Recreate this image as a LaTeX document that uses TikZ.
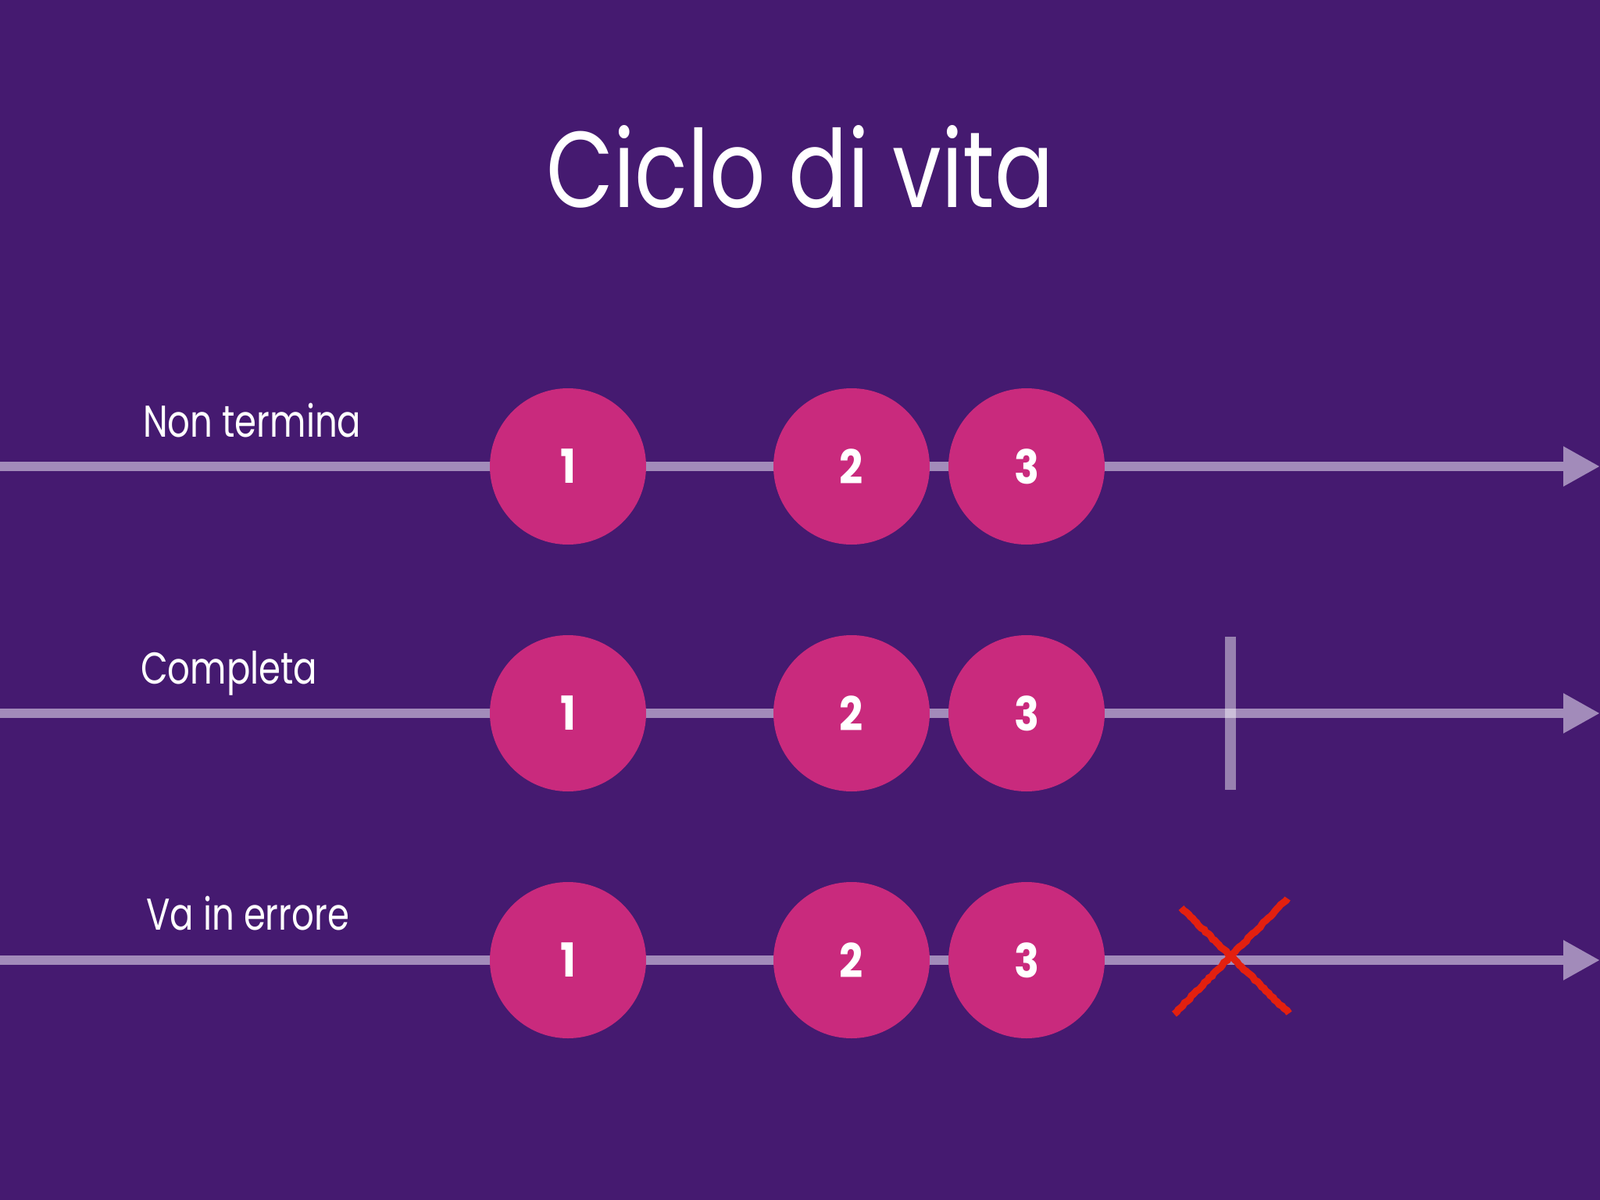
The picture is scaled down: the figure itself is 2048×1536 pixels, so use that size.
\documentclass[tikz,border=0pt]{standalone}
\usepackage{fontspec}
\setmainfont{Poppins}
\newfontfamily\titlefont[FakeStretch=0.81]{Poppins}
\newfontfamily\labelfont[FakeStretch=0.79]{Poppins}
\newfontfamily\numfont[FakeStretch=0.88]{Poppins}
\usetikzlibrary{arrows.meta,decorations.pathmorphing}
\definecolor{bg}{HTML}{451A70}
\definecolor{dot}{HTML}{C92A7D}
\definecolor{rail}{HTML}{A28BBA}
\definecolor{cross}{HTML}{E3200F}
\tikzset{
  evt/.style={circle, fill=dot, minimum size=200pt, inner sep=0pt, text=white, font=\numfont\fontsize{60}{60}\selectfont\bfseries},
  rowlabel/.style={anchor=base west, inner sep=0pt, text=white, font=\labelfont\fontsize{57}{57}\selectfont},
  railline/.style={draw=rail, line width=12pt},
  railarrow/.style={railline, -{Triangle[length=47pt,width=48pt]}},
  endbar/.style={draw=white, draw opacity=0.45, line width=14pt},
  errx/.style={draw=cross, line width=9pt, decorate, decoration={random steps, segment length=4pt, amplitude=0.9pt}}
}
\begin{document}
\begin{tikzpicture}[x=1pt,y=-1pt]
\fill[bg] (0,0) rectangle (2048,1536);
\useasboundingbox (0,0) rectangle (2048,1536);

\node[anchor=base, inner sep=0pt, text=white, font=\titlefont\fontsize{138}{138}\selectfont] (title) at (1024,265) {Ciclo di vita};

% labels
\node[rowlabel] (l1) at (183,559) {Non termina};
\node[rowlabel] (l2) at (180,875) {Completa};
\node[rowlabel] (l3) at (187,1190) {Va in errore};

% row coordinates
\coordinate (s1) at (0,597);
\coordinate (e1) at (2048,597);
\coordinate (s2) at (0,913);
\coordinate (e2) at (2048,913);
\coordinate (s3) at (0,1229);
\coordinate (e3) at (2048,1229);

% circles
\node[evt] (a1) at (727,597) {1};
\node[evt] (b1) at (1090,597) {2};
\node[evt] (c1) at (1314,597) {3};
\node[evt] (a2) at (727,913) {1};
\node[evt] (b2) at (1090,913) {2};
\node[evt] (c2) at (1314,913) {3};
\node[evt] (a3) at (727,1229) {1};
\node[evt] (b3) at (1090,1229) {2};
\node[evt] (c3) at (1314,1229) {3};

% rails
\foreach \r in {1,2,3}{
  \draw[railline] (s\r) -- (a\r);
  \draw[railline] (a\r) -- (b\r);
  \draw[railline] (b\r) -- (c\r);
  \draw[railarrow] (c\r) -- (e\r);
}

% completion bar
\coordinate (bt) at (1575,815);
\coordinate (bb) at (1575,1011);
\draw[endbar] (bt) -- (bb);

% error cross
\coordinate (x1) at (1512,1162);
\coordinate (x2) at (1650,1297);
\coordinate (x3) at (1503,1298);
\coordinate (x4) at (1648,1150);
\draw[errx] (x1) -- (x2);
\draw[errx] (x3) -- (x4);
\end{tikzpicture}
\end{document}
